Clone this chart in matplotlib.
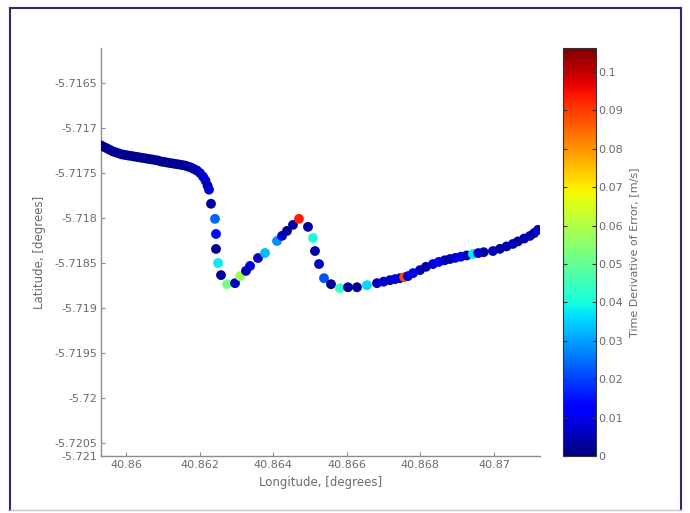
import numpy as np
import matplotlib
matplotlib.use("Agg")
import matplotlib.pyplot as plt
from matplotlib.lines import Line2D

# trajectory (longitude / latitude in degrees) and time derivative of error (m/s)
lon = [
    40.859321, 40.859402, 40.859484, 40.859565, 40.859647, 40.859728, 40.859810,
    40.859891, 40.859973, 40.860054, 40.860136, 40.860217, 40.860299, 40.860380,
    40.860462, 40.860543, 40.860625, 40.860706, 40.860788, 40.860869, 40.860951,
    40.861032, 40.861114, 40.861195, 40.861277, 40.861359, 40.861440, 40.861522,
    40.861603, 40.861685, 40.861766, 40.861848, 40.861929, 40.862011, 40.862092,
    40.862160, 40.862215, 40.862255,
    40.862309, 40.862418, 40.862445, 40.862445, 40.862500, 40.862581, 40.862744,
    40.862962, 40.863097, 40.863260, 40.863370, 40.863586, 40.863777, 40.864103,
    40.864240, 40.864374, 40.864537, 40.864700, 40.864945, 40.865081, 40.865135,
    40.865244, 40.865380, 40.865570, 40.865814, 40.866032, 40.866276, 40.866548,
    40.866820, 40.867000, 40.867173, 40.867310, 40.867445, 40.867560, 40.867662,
    40.867800, 40.867988, 40.868150, 40.868341, 40.868500, 40.868660, 40.868803,
    40.868950, 40.869100, 40.869260, 40.869428, 40.869570, 40.869720, 40.869971,
    40.870160, 40.870340, 40.870514, 40.870650, 40.870820, 40.870977, 40.871090,
    40.871194,
]
lat = [
    -5.717194, -5.717211, -5.717227, -5.717244, -5.717261, -5.717272, -5.717283,
    -5.717294, -5.717300, -5.717306, -5.717311, -5.717317, -5.717322, -5.717328,
    -5.717334, -5.717339, -5.717345, -5.717350, -5.717356, -5.717362, -5.717373,
    -5.717378, -5.717384, -5.717390, -5.717395, -5.717401, -5.717406, -5.717412,
    -5.717418, -5.717429, -5.717440, -5.717457, -5.717474, -5.717502, -5.717541,
    -5.717585, -5.717641, -5.717686,
    -5.717843, -5.718011, -5.718179, -5.718346, -5.718503, -5.718637, -5.718738,
    -5.718727, -5.718648, -5.718590, -5.718535, -5.718447, -5.718391, -5.718257,
    -5.718200, -5.718145, -5.718078, -5.718011, -5.718100, -5.718223, -5.718369,
    -5.718514, -5.718671, -5.718738, -5.718783, -5.718772, -5.718772, -5.718749,
    -5.718727, -5.718710, -5.718693, -5.718682, -5.718671, -5.718660, -5.718648,
    -5.718615, -5.718581, -5.718545, -5.718514, -5.718490, -5.718472, -5.718458,
    -5.718445, -5.718432, -5.718418, -5.718402, -5.718392, -5.718382, -5.718369,
    -5.718345, -5.718318, -5.718290, -5.718262, -5.718230, -5.718201, -5.718170,
    -5.718134,
]
err_rate = [
    0.002, 0.001, 0.002, 0.003, 0.001, 0.002, 0.003, 0.002, 0.001, 0.002,
    0.002, 0.001, 0.002, 0.003, 0.002, 0.001, 0.002, 0.002, 0.001, 0.002,
    0.003, 0.002, 0.001, 0.003, 0.002, 0.003, 0.001, 0.002, 0.003, 0.002,
    0.003, 0.005, 0.004, 0.007, 0.005, 0.009, 0.004, 0.008,
    0.003, 0.024, 0.014, 0.002, 0.038, 0.003, 0.052, 0.006, 0.058, 0.004,
    0.008, 0.006, 0.033, 0.028, 0.008, 0.002, 0.004, 0.093, 0.003, 0.040,
    0.004, 0.006, 0.022, 0.002, 0.044, 0.003, 0.002, 0.036, 0.006, 0.008,
    0.004, 0.010, 0.006, 0.088, 0.008, 0.011, 0.006, 0.004, 0.008, 0.011,
    0.006, 0.004, 0.008, 0.010, 0.006, 0.038, 0.008, 0.004, 0.006, 0.003,
    0.004, 0.006, 0.003, 0.004, 0.006, 0.003, 0.007,
]

x_ticks = [40.86, 40.862, 40.864, 40.866, 40.868, 40.87]
x_labels = ["40.86", "40.862", "40.864", "40.866", "40.868", "40.87"]
y_ticks = [-5.721, -5.7205, -5.72, -5.7195, -5.719, -5.7185, -5.718, -5.7175, -5.717, -5.7165]
y_labels = ["-5.721", "-5.7205", "-5.72", "-5.7195", "-5.719", "-5.7185", "-5.718",
            "-5.7175", "-5.717", "-5.7165"]
cb_ticks = [0, 0.01, 0.02, 0.03, 0.04, 0.05, 0.06, 0.07, 0.08, 0.09, 0.1]
cb_labels = ["0", "0.01", "0.02", "0.03", "0.04", "0.05", "0.06", "0.07", "0.08", "0.09", "0.1"]

xlim = (40.85932, 40.87125)
ylim = (-5.72065, -5.71611)
cmax = 0.10625

text_grey = "#6a6a6a"
axis_grey = "#8c8c8c"

fig = plt.figure(figsize=(6.9, 5.13), dpi=100)
fig.patch.set_facecolor("white")

ax = fig.add_axes([0.1464, 0.1111, 0.6362, 0.7953])
cax = fig.add_axes([0.8159, 0.1111, 0.0478, 0.7953])

sc = ax.scatter(lon, lat, c=err_rate, cmap="jet", vmin=0, vmax=cmax,
                s=50, edgecolors="none", zorder=3)

ax.set_xlim(*xlim)
ax.set_ylim(*ylim)
ax.set_xticks(x_ticks)
ax.set_xticklabels(x_labels)
# MATLAB put the bottom label on the axis corner
y_pos = [ylim[0]] + y_ticks[1:]
ax.set_yticks(y_pos)
ax.set_yticklabels(y_labels)

for side in ["top", "right"]:
    ax.spines[side].set_visible(False)
for side in ["left", "bottom"]:
    ax.spines[side].set_color(axis_grey)
    ax.spines[side].set_linewidth(1.0)
ax.tick_params(direction="in", length=3, color=axis_grey, labelcolor=text_grey,
               labelsize=8, pad=3)
ax.set_xlabel("Longitude, [degrees]", fontsize=8.5, color=text_grey, labelpad=4)
ax.set_ylabel("Latitude, [degrees]", fontsize=8.5, color=text_grey, labelpad=6)

cb = fig.colorbar(sc, cax=cax)
cb.set_ticks(cb_ticks)
cb.set_ticklabels(cb_labels)
cb.outline.set_edgecolor("#333333")
cb.outline.set_linewidth(0.8)
cax.tick_params(direction="in", length=3, color="#333333", labelcolor=text_grey,
                labelsize=8, pad=2, left=True)
cb.set_label("Time Derivative of Error, [m/s]", fontsize=8, color=text_grey, labelpad=4)

# outer frame of the exported figure
navy = "#2b2e6e"
fig.add_artist(Line2D([0.0145, 0.0145], [0.006, 0.985], color=navy, lw=1.5,
                      transform=fig.transFigure))
fig.add_artist(Line2D([0.0145, 0.987], [0.985, 0.985], color=navy, lw=1.5,
                      transform=fig.transFigure))
fig.add_artist(Line2D([0.987, 0.987], [0.006, 0.985], color=navy, lw=1.5,
                      transform=fig.transFigure))
fig.add_artist(Line2D([0.0145, 0.987], [0.006, 0.006], color="#c8c8c8", lw=1.0,
                      transform=fig.transFigure))

fig.savefig("out.png", dpi=100)
